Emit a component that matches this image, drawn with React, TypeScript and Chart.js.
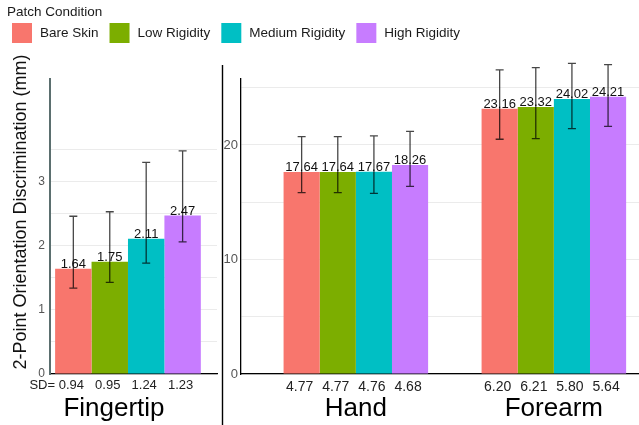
import { useEffect, useRef } from 'react';
import { Chart, registerables } from 'chart.js';

Chart.register(...registerables);

const FONT = "'Liberation Sans', Arial, Helvetica, sans-serif";

// ---------------- data ----------------
const REGIONS = ['Fingertip', 'Hand', 'Forearm'];
const CONDITIONS = ['Bare Skin', 'Low Rigidity', 'Medium Rigidity', 'High Rigidity'];
const COLORS = ['#F8766D', '#7CAE00', '#00BFC4', '#C77CFF'];

// means per condition, columns follow REGIONS
const MEAN_BARE = [1.64, 17.64, 23.16];
const MEAN_LOW = [1.75, 17.64, 23.32];
const MEAN_MED = [2.11, 17.67, 24.02];
const MEAN_HIGH = [2.47, 18.26, 24.21];

// standard deviations (printed under the bars)
const SD_BARE = [0.94, 4.77, 6.2];
const SD_LOW = [0.95, 4.77, 6.21];
const SD_MED = [1.24, 4.76, 5.8];
const SD_HIGH = [1.23, 4.68, 5.64];

// error bar lower / upper ends
const LOWER_BARE = [1.34, 15.84, 20.5];
const LOWER_LOW = [1.43, 15.84, 20.55];
const LOWER_MED = [1.73, 15.78, 21.43];
const LOWER_HIGH = [2.06, 16.39, 21.63];
const UPPER_BARE = [2.46, 20.72, 26.55];
const UPPER_LOW = [2.53, 20.72, 26.75];
const UPPER_MED = [3.3, 20.79, 27.13];
const UPPER_HIGH = [3.48, 21.19, 27.02];

const MEANS = [MEAN_BARE, MEAN_LOW, MEAN_MED, MEAN_HIGH];
const SDS = [SD_BARE, SD_LOW, SD_MED, SD_HIGH];
const LOWERS = [LOWER_BARE, LOWER_LOW, LOWER_MED, LOWER_HIGH];
const UPPERS = [UPPER_BARE, UPPER_LOW, UPPER_MED, UPPER_HIGH];

// axes
const LEFT_Y_MAX = 4.6;
const LEFT_Y_GRID = [0, 0.5, 1, 1.5, 2, 2.5, 3, 3.5];
const LEFT_Y_LABELS = [0, 1, 2, 3];
const RIGHT_Y_MAX = 25.76;
const RIGHT_Y_GRID = [0, 5, 10, 15, 20, 25];
const RIGHT_Y_LABELS = [0, 10, 20];

const Y_TITLE = '2-Point Orientation Discrimination (mm)';
const LEGEND_TITLE = 'Patch Condition';
const SD_PREFIX = 'SD= ';

// region index -> position on each panel's x axis
const LEFT_REGIONS = [0];
const RIGHT_REGIONS = [1, 2];

const W = 639;
const H = 425;

// ---------------- plugins ----------------
const annotatePlugin = {
  id: 'annotate',
  afterDatasetsDraw(chart: any, _args: any, opts: any) {
    const { ctx, chartArea } = chart;
    const yScale = chart.scales.y;
    ctx.save();
    // value labels and SD labels
    chart.data.datasets.forEach((ds: any, i: number) => {
      const meta = chart.getDatasetMeta(i);
      meta.data.forEach((bar: any, j: number) => {
        const r = ds.regions[j];
        const c = ds.condIndex;
        ctx.fillStyle = '#111';
        ctx.font = `${opts.valueSize}px ${FONT}`;
        ctx.textAlign = 'center';
        ctx.textBaseline = 'alphabetic';
        ctx.fillText(MEANS[c][r].toFixed(2), bar.x, bar.y - 1);

        ctx.fillStyle = '#222';
        ctx.font = `${opts.sdSize}px ${FONT}`;
        ctx.textBaseline = 'middle';
        const sdText = SDS[c][r].toFixed(2);
        const sdY = chartArea.bottom + opts.sdOffset;
        const sx = bar.x - 2;
        ctx.fillText(sdText, sx, sdY);
        if (opts.sdPrefix && i === 0 && j === 0) {
          const w = ctx.measureText(sdText).width;
          ctx.textAlign = 'right';
          ctx.fillText(SD_PREFIX, sx - w / 2, sdY);
        }
      });
    });
    // error bars
    ctx.strokeStyle = 'rgba(0,0,0,0.72)';
    ctx.lineWidth = 1.3;
    chart.data.datasets.forEach((ds: any, i: number) => {
      const meta = chart.getDatasetMeta(i);
      meta.data.forEach((bar: any, j: number) => {
        const r = ds.regions[j];
        const c = ds.condIndex;
        const yt = yScale.getPixelForValue(UPPERS[c][r]);
        const yb = yScale.getPixelForValue(LOWERS[c][r]);
        const x = bar.x;
        ctx.beginPath();
        ctx.moveTo(x, yt);
        ctx.lineTo(x, yb);
        ctx.moveTo(x - 4, yt);
        ctx.lineTo(x + 4, yt);
        ctx.moveTo(x - 4, yb);
        ctx.lineTo(x + 4, yb);
        ctx.stroke();
      });
    });
    ctx.restore();
  },
};

const legendPlugin = {
  id: 'patchLegend',
  afterDraw(chart: any) {
    const { ctx, chartArea } = chart;
    ctx.save();
    ctx.font = `13.5px ${FONT}`;
    ctx.fillStyle = '#1a1a1a';
    ctx.textBaseline = 'middle';
    ctx.textAlign = 'left';
    ctx.fillText(LEGEND_TITLE, 7, 12.5);
    let x = 12;
    chart.data.datasets.forEach((ds: any) => {
      ctx.fillStyle = ds.backgroundColor;
      ctx.fillRect(x, 23, 20, 20);
      ctx.fillStyle = '#1a1a1a';
      ctx.fillText(ds.label, x + 28, 33.5);
      x += 28 + ctx.measureText(ds.label).width + 11;
    });
    // y axis title
    ctx.translate(21, (50 + chartArea.bottom) / 2);
    ctx.rotate(-Math.PI / 2);
    ctx.font = `18px ${FONT}`;
    ctx.textAlign = 'center';
    ctx.fillStyle = '#111';
    ctx.fillText(Y_TITLE, 0, 0);
    ctx.restore();
  },
};

const separatorPlugin = {
  id: 'separator',
  afterDraw(chart: any) {
    const { ctx } = chart;
    ctx.save();
    ctx.strokeStyle = '#000';
    ctx.lineWidth = 1.4;
    ctx.beginPath();
    ctx.moveTo(222.5, 65);
    ctx.lineTo(222.5, H);
    ctx.stroke();
    ctx.restore();
  },
};

// ---------------- chart configs ----------------
function makeDatasets(regions: number[], catPct: number) {
  return CONDITIONS.map((label, c) => ({
    label,
    condIndex: c,
    regions,
    data: regions.map((r, k) => ({ x: k + 1, y: MEANS[c][r] })),
    backgroundColor: COLORS[c],
    borderWidth: 0,
    barPercentage: 1,
    categoryPercentage: catPct,
  }));
}

function leftConfig(): any {
  return {
    type: 'bar',
    data: { datasets: makeDatasets(LEFT_REGIONS, 0.8725) },
    plugins: [annotatePlugin, legendPlugin],
    options: {
      responsive: false,
      animation: false,
      devicePixelRatio: 1,
      layout: { padding: { top: 79, left: 0, right: 0, bottom: 0 } },
      plugins: {
        legend: { display: false },
        tooltip: { enabled: false },
        annotate: { valueSize: 13, sdSize: 13, sdOffset: 11, sdPrefix: true },
      },
      scales: {
        x: {
          type: 'linear',
          offset: false,
          min: 0.4,
          max: 1.685,
          afterBuildTicks: (s: any) => {
            s.ticks = LEFT_REGIONS.map((_r, k) => ({ value: k + 1 }));
          },
          afterFit: (s: any) => {
            s.height = 51;
          },
          grid: { display: false, drawTicks: false },
          border: { display: true, color: '#000', width: 1.3 },
          ticks: {
            callback: (v: number) => REGIONS[LEFT_REGIONS[v - 1]] ?? '',
            font: { size: 26, family: FONT },
            color: '#000',
            padding: 19,
            labelOffset: -14,
            autoSkip: false,
            maxRotation: 0,
          },
        },
        y: {
          type: 'linear',
          min: 0,
          max: LEFT_Y_MAX,
          afterBuildTicks: (s: any) => {
            s.ticks = LEFT_Y_GRID.map((v) => ({ value: v }));
          },
          afterFit: (s: any) => {
            s.width = 50;
          },
          grid: { color: '#ebebeb', lineWidth: 1, drawTicks: false },
          border: { color: '#5b6f6f', width: 2 },
          ticks: {
            callback: (v: number) => (LEFT_Y_LABELS.includes(v) ? String(v) : ''),
            font: { size: 12, family: FONT },
            color: '#555',
            padding: 5,
          },
        },
        spacer: {
          axis: 'y',
          type: 'linear',
          position: 'right',
          display: true,
          afterFit: (s: any) => {
            s.width = W - 217;
          },
          grid: { display: false, drawTicks: false },
          border: { display: false },
          ticks: { display: false },
        },
      },
    },
  };
}

function rightConfig(): any {
  return {
    type: 'bar',
    data: { datasets: makeDatasets(RIGHT_REGIONS, 0.73) },
    plugins: [annotatePlugin, separatorPlugin],
    options: {
      responsive: false,
      animation: false,
      devicePixelRatio: 1,
      layout: { padding: { top: 79, left: 0, right: 0, bottom: 0 } },
      plugins: {
        legend: { display: false },
        tooltip: { enabled: false },
        annotate: { valueSize: 13, sdSize: 14, sdOffset: 13, sdPrefix: false },
      },
      scales: {
        x: {
          type: 'linear',
          offset: false,
          min: 0.42,
          max: 2.43,
          afterBuildTicks: (s: any) => {
            s.ticks = RIGHT_REGIONS.map((_r, k) => ({ value: k + 1 }));
          },
          afterFit: (s: any) => {
            s.height = 51;
          },
          grid: { display: false, drawTicks: false },
          border: { display: true, color: '#000', width: 1.3 },
          ticks: {
            callback: (v: number) => REGIONS[RIGHT_REGIONS[v - 1]] ?? '',
            font: { size: 26, family: FONT },
            color: '#000',
            padding: 19,
            autoSkip: false,
            maxRotation: 0,
          },
        },
        y: {
          type: 'linear',
          min: 0,
          max: RIGHT_Y_MAX,
          afterBuildTicks: (s: any) => {
            s.ticks = RIGHT_Y_GRID.map((v) => ({ value: v }));
          },
          afterFit: (s: any) => {
            s.width = 241;
          },
          grid: { color: '#ebebeb', lineWidth: 1, drawTicks: false },
          border: { color: '#000', width: 1.3 },
          ticks: {
            callback: (v: number) => (RIGHT_Y_LABELS.includes(v) ? String(v) : ''),
            font: { size: 13, family: FONT },
            color: '#555',
            padding: 3,
          },
        },
      },
    },
  };
}

export default function App() {
  const leftRef = useRef<HTMLCanvasElement | null>(null);
  const rightRef = useRef<HTMLCanvasElement | null>(null);

  useEffect(() => {
    Chart.defaults.font.family = FONT;
    const a = new Chart(leftRef.current as HTMLCanvasElement, leftConfig());
    const b = new Chart(rightRef.current as HTMLCanvasElement, rightConfig());
    return () => {
      a.destroy();
      b.destroy();
    };
  }, []);

  return (
    <div
      style={{
        position: 'fixed',
        left: 0,
        top: 0,
        width: W,
        height: H,
        overflow: 'hidden',
        background: '#fff',
      }}
    >
      <canvas
        ref={leftRef}
        width={W}
        height={H}
        style={{ position: 'absolute', left: 0, top: 0, width: W, height: H }}
      />
      <canvas
        ref={rightRef}
        width={W}
        height={H}
        style={{ position: 'absolute', left: 0, top: 0, width: W, height: H, pointerEvents: 'none' }}
      />
    </div>
  );
}
